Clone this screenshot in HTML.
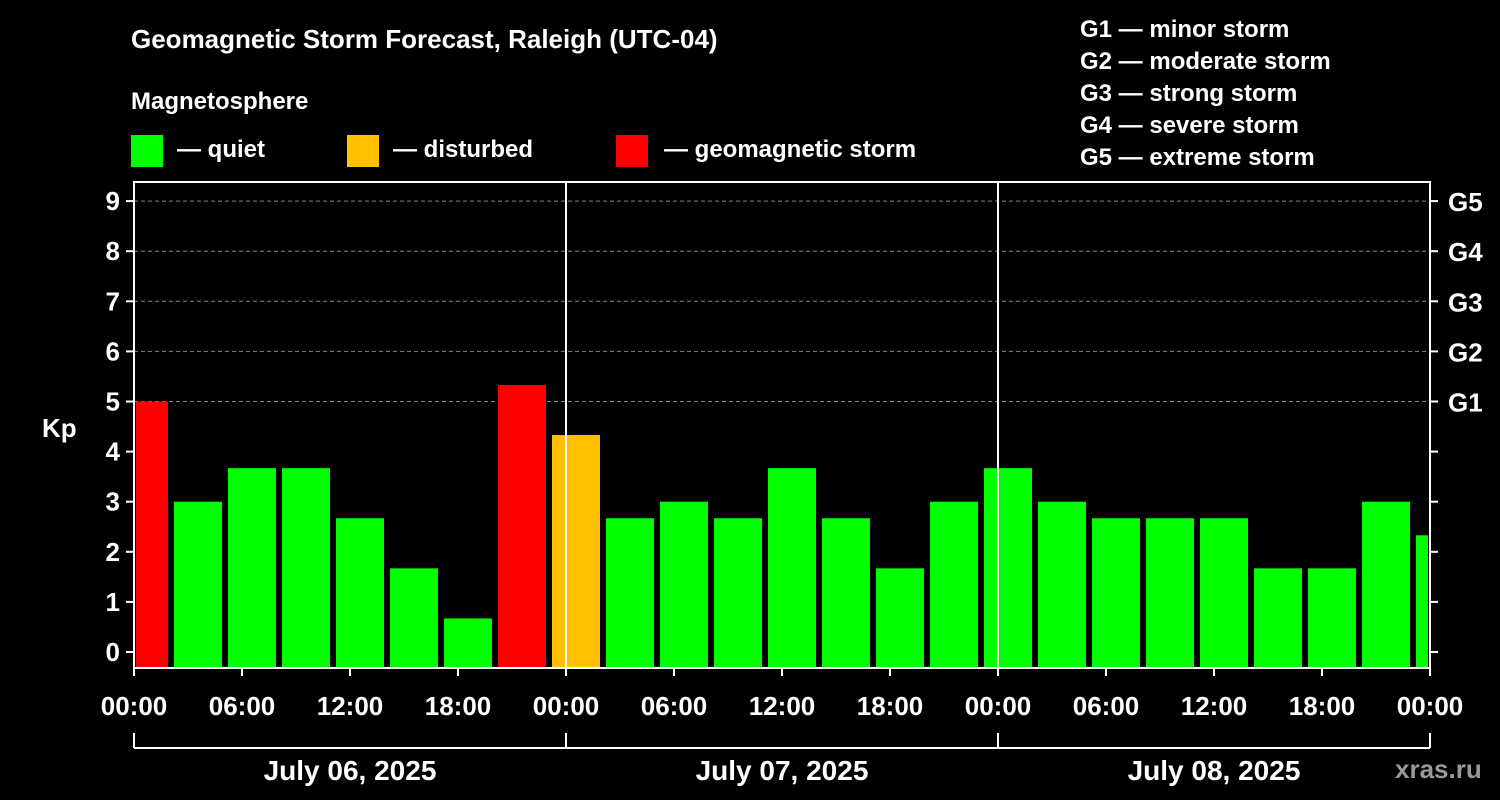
<!DOCTYPE html>
<html><head><meta charset="utf-8"><style>
body{margin:0;background:#000;}
svg{display:block;font-family:"Liberation Sans",Arial,sans-serif;font-weight:bold;}
</style></head><body>
<svg id="c" width="1500" height="800" viewBox="0 0 1500 800">
<rect width="1500" height="800" fill="#000"/>
<text x="131" y="48" fill="#fff" font-size="26">Geomagnetic Storm Forecast, Raleigh (UTC-04)</text>
<text x="131" y="109" fill="#fff" font-size="24">Magnetosphere</text>
<g><rect x="131" y="135" width="32" height="32" fill="#00ff00"/><text x="177" y="157" fill="#fff" font-size="24">— quiet</text></g>
<g><rect x="347" y="135" width="32" height="32" fill="#ffc000"/><text x="393" y="157" fill="#fff" font-size="24">— disturbed</text></g>
<g><rect x="616" y="135" width="32" height="32" fill="#ff0000"/><text x="664" y="157" fill="#fff" font-size="24">— geomagnetic storm</text></g>
<g fill="#fff" font-size="24">
<text x="1080" y="37">G1 — minor storm</text><text x="1080" y="69">G2 — moderate storm</text><text x="1080" y="101">G3 — strong storm</text><text x="1080" y="133">G4 — severe storm</text><text x="1080" y="165">G5 — extreme storm</text></g>
<text x="42" y="437" fill="#fff" font-size="26">Kp</text>
<text x="1395" y="778" fill="#999" font-size="26">xras.ru</text>
<g id="plot"></g>
</svg>
<script>
const kpValues=[5,3,3.67,3.67,2.67,1.67,0.67,5.33,4.33,2.67,3,2.67,3.67,2.67,1.67,3,3.67,3,2.67,2.67,2.67,1.67,1.67,3,2.33];
const blockStartHours=[-1,2,5,8,11,14,17,20,23,26,29,32,35,38,41,44,47,50,53,56,59,62,65,68,71];
const yTicks=[0,1,2,3,4,5,6,7,8,9];
const gLabels=["G1","G2","G3","G4","G5"];
const gLevels=[5,6,7,8,9];
const xTickLabels=["00:00","06:00","12:00","18:00","00:00","06:00","12:00","18:00","00:00","06:00","12:00","18:00","00:00"];
const dayLabels=["July 06, 2025","July 07, 2025","July 08, 2025"];
const NS="http://www.w3.org/2000/svg";
const L=134,R=1430,T=182,B=668,totalH=72;
const X=h=>L+(R-L)*h/totalH;
const Y=v=>652-v*50.1;
const g=document.getElementById('plot');
function mk(t,a,txt){const e=document.createElementNS(NS,t);for(const k in a)e.setAttribute(k,a[k]);if(txt!=null)e.textContent=txt;g.appendChild(e);return e;}
gLevels.forEach(v=>{const e=mk('line',{x1:L,x2:R,y1:Y(v),y2:Y(v),stroke:'#888','stroke-dasharray':'4,3','stroke-width':1});

});
kpValues.forEach((v,i)=>{const h0=blockStartHours[i];let x0=X(h0)+4,x1=X(h0+3)-2;x0=Math.max(x0,L+2);x1=Math.min(x1,R-2);
const col=v>=5?'#ff0000':(v>=4?'#ffc000':'#00ff00');
const e=mk('rect',{x:x0,y:Y(v),width:x1-x0,height:B-Y(v),fill:col});

});
[24,48].forEach(h=>{const e=mk('line',{x1:X(h),x2:X(h),y1:T,y2:B,stroke:'#fff','stroke-width':2});

});
const f=mk('rect',{x:L,y:T,width:R-L,height:B-T,fill:'none',stroke:'#fff','stroke-width':2});


yTicks.forEach(v=>{mk('line',{x1:L-8,x2:L,y1:Y(v),y2:Y(v),stroke:'#fff','stroke-width':2});
mk('line',{x1:R,x2:R+8,y1:Y(v),y2:Y(v),stroke:'#fff','stroke-width':2});
const t=mk('text',{x:L-14,y:Y(v)+9,fill:'#fff','font-size':26,'text-anchor':'end'},String(v));

});
gLabels.forEach((s,i)=>{const t=mk('text',{x:R+18,y:Y(gLevels[i])+10,fill:'#fff','font-size':26},s);

});
xTickLabels.forEach((s,i)=>{const x=X(i*6);mk('line',{x1:x,x2:x,y1:B,y2:B+8,stroke:'#fff','stroke-width':2});
const t=mk('text',{x:x,y:715,fill:'#fff','font-size':26,'text-anchor':'middle'},s);

});
mk('line',{x1:L,x2:R,y1:748,y2:748,stroke:'#fff','stroke-width':2});
[0,24,48,72].forEach(h=>mk('line',{x1:X(h),x2:X(h),y1:733,y2:748,stroke:'#fff','stroke-width':2}));
dayLabels.forEach((s,i)=>{const t=mk('text',{x:X(i*24+12),y:780,fill:'#fff','font-size':28,'text-anchor':'middle'},s);

});
</script>
</body></html>
